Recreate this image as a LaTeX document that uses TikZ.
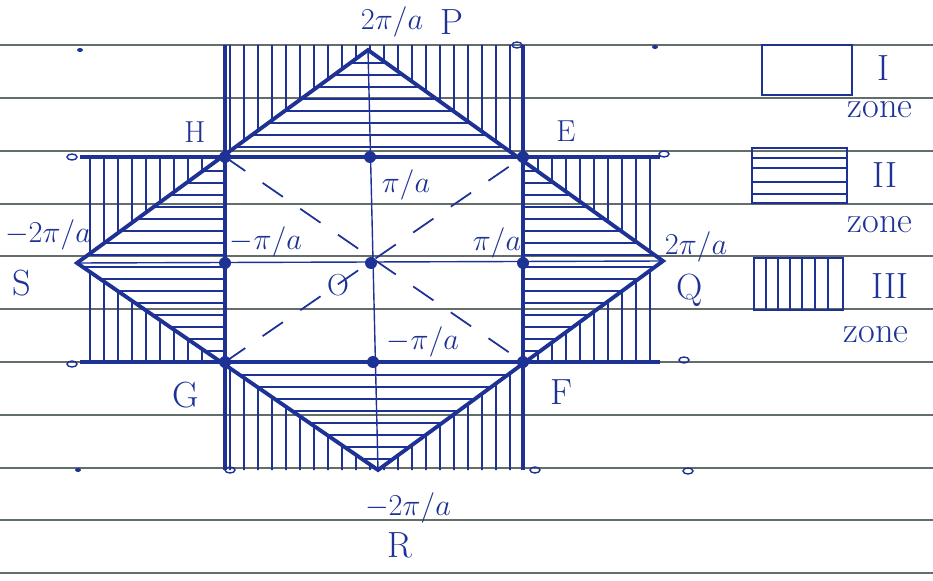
\documentclass[tikz,border=0pt]{standalone}
\definecolor{ink}{RGB}{30,50,150}
\definecolor{rule}{RGB}{100,110,105}
\tikzset{
  edge/.style={draw=ink, line width=2.2pt, line cap=round},
  rim/.style={draw=ink, line width=1.8pt},
  hatch/.style={draw=ink, line width=0.9pt},
  axis/.style={draw=ink, line width=0.8pt},
  diag/.style={draw=ink, line width=1pt, dash pattern=on 14pt off 12pt},
  ruled/.style={draw=rule, line width=0.6pt},
  lbl/.style={text=ink, font=\LARGE, inner sep=0pt},
  big/.style={text=ink, font=\huge, inner sep=0pt},
}
\begin{document}
\begin{tikzpicture}[x=0.02cm,y=-0.02cm]
\useasboundingbox (0,0) rectangle (933,581);
% ruled paper
\foreach \y in {45,98,151,204,256,309,362,415,468,520,573}
  \draw[ruled] (0,\y) -- (933,\y);

% corners of the zones
\coordinate (P) at (368,50);
\coordinate (Q) at (663,261);
\coordinate (R) at (378,470);
\coordinate (S) at (77,263);
\coordinate (H) at (225,157);
\coordinate (E) at (523,157);
\coordinate (F) at (523,362);
\coordinate (G) at (225,362);
\coordinate (O) at (371,263);
\coordinate (ky) at (370,157);
\coordinate (mky) at (373,362);
\coordinate (kx) at (523,263);
\coordinate (mkx) at (225,263);
\coordinate (H1) at (225,45);
\coordinate (E1) at (523,45);
\coordinate (E2) at (660,157);
\coordinate (F2) at (660,362);
\coordinate (F1) at (523,470);
\coordinate (G1) at (225,470);
\coordinate (G2) at (80,362);
\coordinate (H2) at (80,157);

% zone II
\begin{scope}[even odd rule]
\clip (P) -- (Q) -- (R) -- (S) -- cycle (H) -- (E) -- (F) -- (G) -- cycle;
\foreach \y in {63,75,...,465}
  \draw[hatch] (60,\y) -- (690,\y);
\end{scope}

% zone III
\begin{scope}[even odd rule]
\clip (H1) -- (E1) -- (E) -- (E2) -- (F2) -- (F) -- (F1) -- (G1) -- (G) -- (G2) -- (H2) -- (H) -- cycle
  (P) -- (Q) -- (R) -- (S) -- cycle;
\foreach \x in {90,104,...,660}
  \draw[hatch] (\x,40) -- (\x,480);
\end{scope}

% axes and diagonals
\draw[axis] (P) -- (R);
\draw[axis] (S) -- (Q);
\draw[diag] (H) -- (F);
\draw[diag] (G) -- (E);

% square lines and diamond
\draw[rim] (H1) -- (G1);
\draw[rim] (E1) -- (F1);
\draw[rim] (H2) -- (E2);
\draw[rim] (G2) -- (F2);
\draw[edge] (P) -- (Q) -- (R) -- (S) -- cycle;

\foreach \c in {H,E,F,G,O,ky,mky,kx,mkx}
  \fill[ink] (\c) circle (6);

% little marks
\foreach \p in {(72,157),(72,364),(664,154),(684,360),(517,45),(230,470),(535,470),(688,471)}
  \draw[ink, line width=0.8pt] \p ellipse (5 and 3);
\foreach \p in {(80,50),(655,47),(78,470)}
  \fill[ink] \p ellipse (3 and 2);

% labels
\node[lbl] (lP) at (392,22) {$2\pi/a$};
\node[big] (nP) at (452,22) {P};
\node[lbl] (nH) at (195,132) {H};
\node[lbl] (nE) at (566,131) {E};
\node[lbl] (lky) at (406,185) {$\pi/a$};
\node[lbl] (lmkx) at (266,242) {$-\pi/a$};
\node[lbl] (lkx) at (497,243) {$\pi/a$};
\node[lbl] (nO) at (338,285) {O};
\node[lbl] (lmky) at (423,342) {$-\pi/a$};
\node[lbl] (lQ) at (696,247) {$2\pi/a$};
\node[lbl] (lS) at (48,235) {$-2\pi/a$};
\node[big] (nS) at (22,283) {S};
\node[big] (nQ) at (690,290) {Q};
\node[big] (nG) at (186,395) {G};
\node[big] (nF) at (561,392) {F};
\node[lbl] (lR) at (408,508) {$-2\pi/a$};
\node[big] (nR) at (400,545) {R};

% legend
\draw[ink, line width=1.2pt] (762,45) rectangle (852,95);
\draw[ink, line width=1.2pt] (752,148) rectangle (847,203);
\foreach \y in {158,168,182,194}
  \draw[hatch] (752,\y) -- (847,\y);
\draw[ink, line width=1.2pt] (754,258) rectangle (843,310);
\foreach \x in {766,778,790,802,815,828}
  \draw[hatch] (\x,258) -- (\x,310);
\node[big] (zI) at (883,68) {I};
\node[big] (zII) at (885,175) {II};
\node[big] (zIII) at (890,286) {III};
\node[big] (tI) at (880,110) {zone};
\node[big] (tII) at (880,225) {zone};
\node[big] (tIII) at (876,335) {zone};
\end{tikzpicture}
\end{document}
